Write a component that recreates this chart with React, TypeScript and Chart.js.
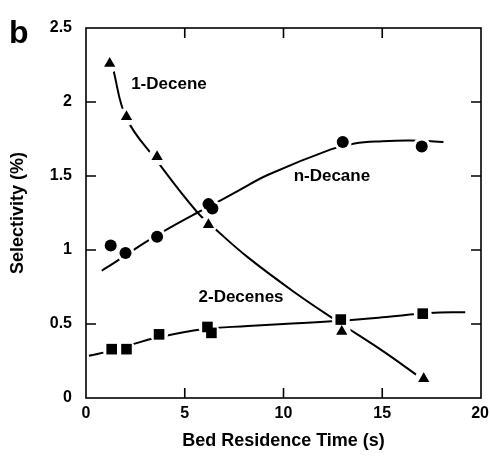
import React, { useEffect, useRef } from "react";
import { Chart, registerables } from "chart.js";
Chart.register(...registerables);

// Measured points
const decene1X = [1.2, 2.05, 3.6, 6.2, 12.95, 17.1];
const decene1Y = [2.26, 1.9, 1.63, 1.17, 0.45, 0.13];
const decaneX = [1.25, 2.0, 3.6, 6.2, 6.4, 13.0, 17.0];
const decaneY = [1.03, 0.98, 1.09, 1.31, 1.28, 1.73, 1.7];
const decenes2X = [1.3, 2.05, 3.7, 6.15, 6.35, 12.9, 17.05];
const decenes2Y = [0.33, 0.33, 0.43, 0.48, 0.44, 0.53, 0.57];

// Fitted curves
const decene1FitX = [1.36, 2.05, 3.6, 5.6, 6.6, 8.2, 10.5, 12.7, 15.0, 16.9];
const decene1FitY = [2.23, 1.89, 1.6, 1.26, 1.135, 0.95, 0.72, 0.52, 0.32, 0.14];
const decaneFitX = [0.8, 1.5, 2.4, 3.1, 4.1, 5.6, 6.6, 7.7, 9.25, 12.4, 13.6, 15.0, 16.4, 18.1];
const decaneFitY = [0.86, 0.92, 1.0, 1.06, 1.14, 1.25, 1.32, 1.4, 1.51, 1.68, 1.72, 1.735, 1.74, 1.73];
const decenes2FitX = [0.15, 1.3, 2.3, 3.5, 5.9, 8.2, 10.0, 12.6, 15.0, 17.4, 19.2];
const decenes2FitY = [0.285, 0.32, 0.36, 0.405, 0.465, 0.486, 0.5, 0.52, 0.545, 0.574, 0.58];

// Axes
const xMin = 0, xMax = 20, xStep = 5;
const yMin = 0, yMax = 2.5, yStep = 0.5;
const xTitle = "Bed Residence Time (s)";
const yTitle = "Selectivity (%)";
const panelLabel = "b";

// Curve labels
const labelTexts = ["1-Decene", "n-Decane", "2-Decenes"];
const labelX = [4.2, 12.45, 7.85];
const labelY = [2.12, 1.5, 0.68];

const FONT = "'Liberation Sans', Arial, Helvetica, sans-serif";

const toXY = (xs: number[], ys: number[]) => xs.map((x, i) => ({ x, y: ys[i] }));

export default function App() {
  const ref = useRef<HTMLCanvasElement | null>(null);
  useEffect(() => {
    document.body.style.margin = "0";
    const canvas = ref.current!;
    const curve = (data: number[][]) => ({
      type: "line" as const,
      data: toXY(data[0], data[1]),
      borderColor: "#000",
      borderWidth: 2,
      pointRadius: 0,
      tension: 0.4,
      fill: false,
      order: 2,
    });
    const halo = (xs: number[], ys: number[]) => ({
      type: "scatter" as const,
      data: toXY(xs, ys),
      pointStyle: "circle",
      pointRadius: 9,
      backgroundColor: "#fff",
      borderColor: "#fff",
      pointBorderWidth: 0,
      showLine: false,
      order: 1,
    });
    const marks = (xs: number[], ys: number[], style: string, r: number) => ({
      type: "scatter" as const,
      data: toXY(xs, ys),
      pointStyle: style,
      pointRadius: r,
      backgroundColor: "#000",
      borderColor: "#000",
      pointBorderWidth: 0,
      showLine: false,
      order: 0,
    });

    const framePlugin = {
      id: "frame",
      afterDraw(chart: any) {
        const { ctx, chartArea, scales } = chart;
        const { left, right, top, bottom } = chartArea;
        const xs = scales.x, ys = scales.y;
        ctx.save();
        ctx.strokeStyle = "#000";
        ctx.lineWidth = 1.6;
        ctx.strokeRect(left, top, right - left, bottom - top);
        const tl = 10;
        ctx.beginPath();
        xs.ticks.forEach((t: any) => {
          if (t.value <= xMin || t.value >= xMax) return;
          const px = xs.getPixelForValue(t.value);
          ctx.moveTo(px, bottom); ctx.lineTo(px, bottom - tl);
          ctx.moveTo(px, top); ctx.lineTo(px, top + tl);
        });
        ys.ticks.forEach((t: any) => {
          if (t.value <= yMin || t.value >= yMax) return;
          const py = ys.getPixelForValue(t.value);
          ctx.moveTo(left, py); ctx.lineTo(left + tl, py);
          ctx.moveTo(right, py); ctx.lineTo(right - tl, py);
        });
        ctx.stroke();

        // x tick labels
        ctx.fillStyle = "#000";
        ctx.font = `bold 16px ${FONT}`;
        ctx.textBaseline = "top";
        ctx.textAlign = "center";
        xs.ticks.forEach((t: any) => {
          const txt = String(t.value);
          const w = ctx.measureText(txt).width;
          let px = xs.getPixelForValue(t.value);
          px = Math.min(px, chart.width - w / 2 - 1);
          ctx.fillText(txt, px, bottom + 8);
        });

        // curve labels
        ctx.font = `bold 17px ${FONT}`;
        ctx.textBaseline = "middle";
        labelTexts.forEach((s, i) => {
          ctx.fillText(s, xs.getPixelForValue(labelX[i]), ys.getPixelForValue(labelY[i]));
        });

        // panel label
        ctx.font = `bold 32px ${FONT}`;
        ctx.textAlign = "left";
        ctx.textBaseline = "alphabetic";
        ctx.fillText(panelLabel, 9, 43);
        ctx.restore();
      },
    };

    const chart = new Chart(canvas, {
      type: "scatter",
      data: {
        datasets: [
          curve([decene1FitX, decene1FitY]),
          curve([decaneFitX, decaneFitY]),
          curve([decenes2FitX, decenes2FitY]),
          halo(decene1X, decene1Y),
          halo(decaneX, decaneY),
          halo(decenes2X, decenes2Y),
          marks(decene1X, decene1Y, "triangle", 6.5),
          marks(decaneX, decaneY, "circle", 6),
          marks(decenes2X, decenes2Y, "rect", 7.5),
        ] as any,
      },
      options: {
        animation: false,
        responsive: false,
        devicePixelRatio: 1,
        layout: { padding: { left: 0, right: 5, top: 28, bottom: 0 } },
        plugins: { legend: { display: false }, tooltip: { enabled: false } },
        scales: {
          x: {
            type: "linear",
            min: xMin,
            max: xMax,
            ticks: { stepSize: xStep, display: false },
            grid: { display: false, drawTicks: false },
            border: { display: false },
            title: {
              display: true,
              text: xTitle,
              color: "#000",
              font: { family: FONT, size: 18, weight: "bold" },
              padding: { top: 0, bottom: 9 },
            },
            afterFit(scale: any) {
              scale.height = 63;
              scale.paddingLeft = 0;
              scale.paddingRight = 0;
            },
          },
          y: {
            type: "linear",
            min: yMin,
            max: yMax,
            ticks: {
              stepSize: yStep,
              color: "#000",
              padding: 14,
              font: { family: FONT, size: 16, weight: "bold" },
              callback: (v: any) => String(v),
            },
            grid: { display: false, drawTicks: false },
            border: { display: false },
            title: {
              display: true,
              text: yTitle,
              color: "#000",
              font: { family: FONT, size: 18, weight: "bold" },
              padding: { top: 7, bottom: 0 },
            },
            afterFit(scale: any) {
              scale.width = 86;
              scale.paddingTop = 0;
              scale.paddingBottom = 0;
            },
          },
        },
      },
      plugins: [framePlugin],
    });
    return () => chart.destroy();
  }, []);
  return (
    <div style={{ width: 490, height: 461 }}>
      <canvas ref={ref} width={490} height={461} style={{ display: "block" }} />
    </div>
  );
}
